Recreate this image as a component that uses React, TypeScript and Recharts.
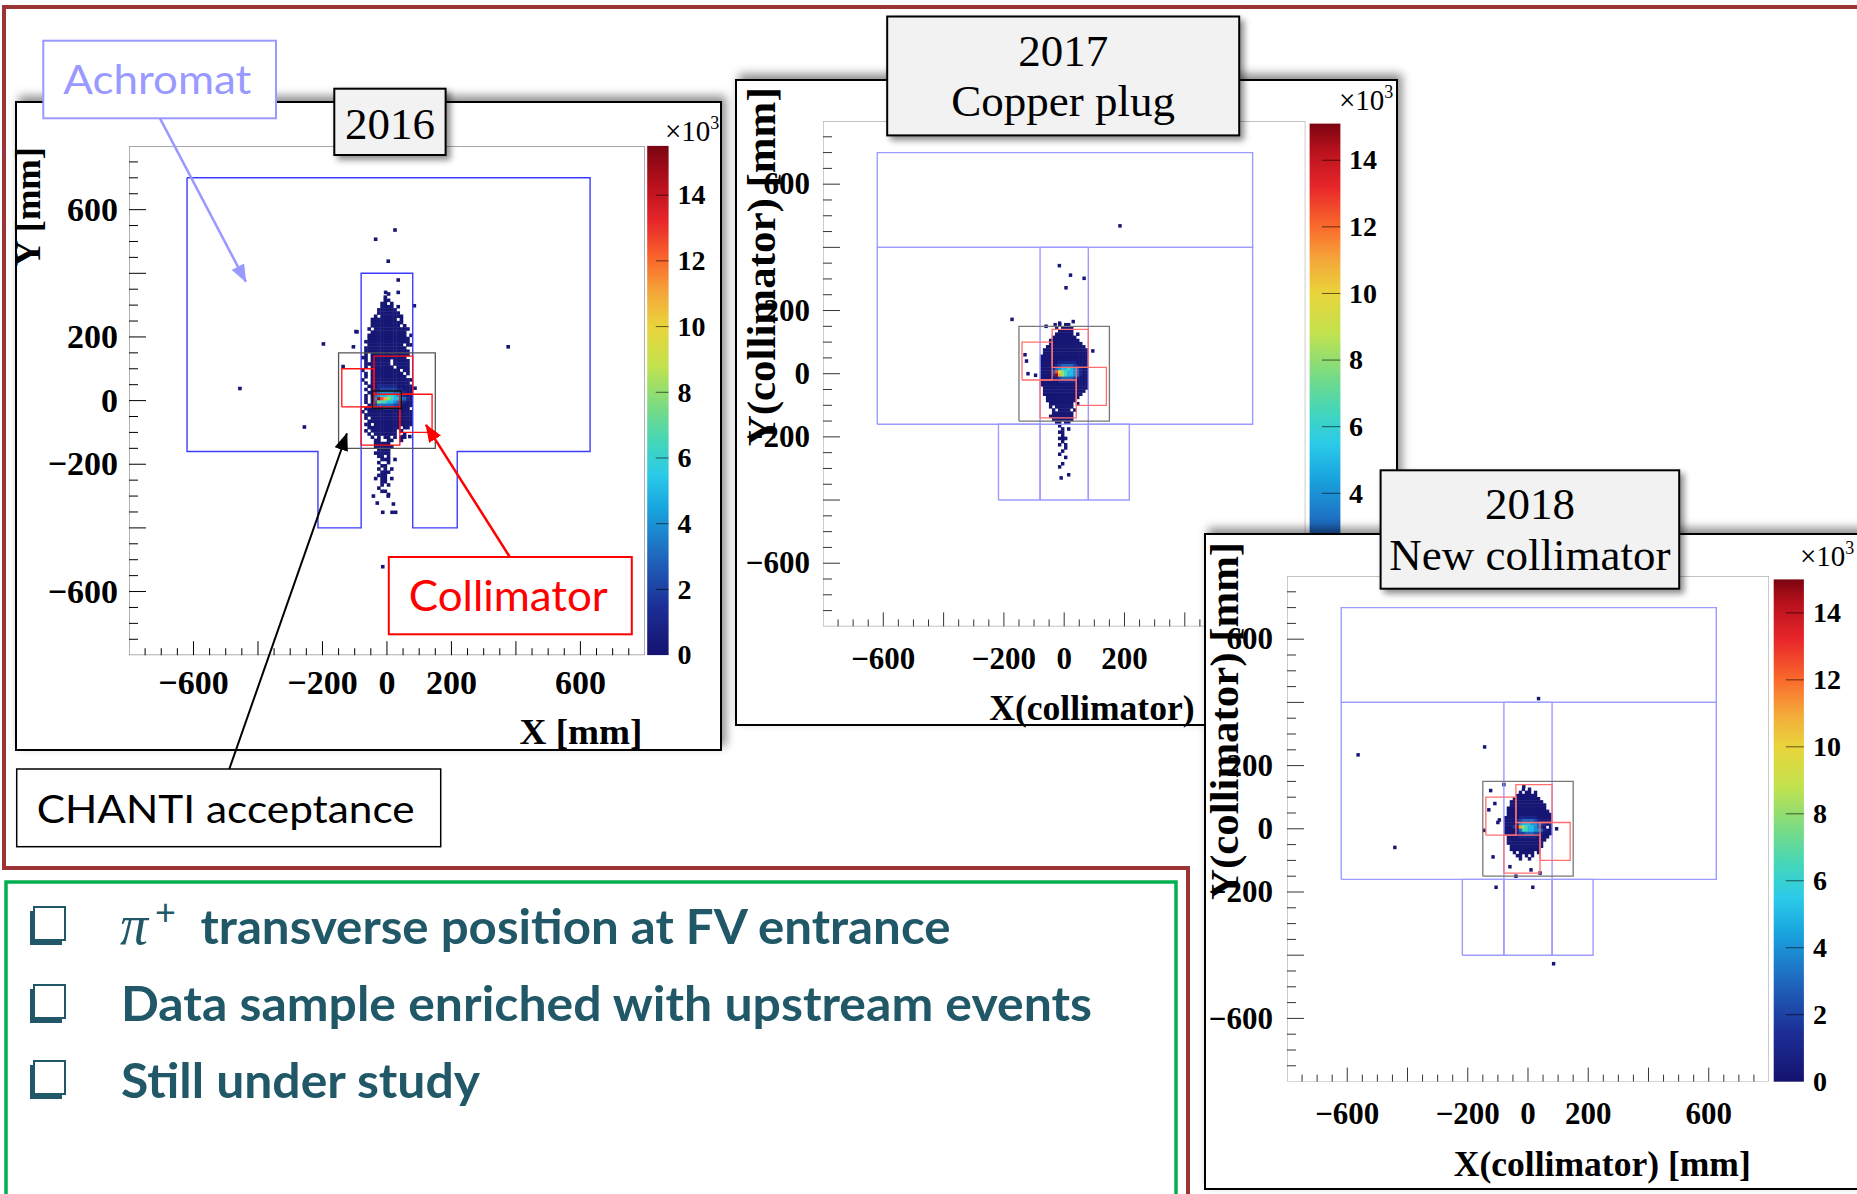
import React from 'react'
import { ScatterChart, Scatter, XAxis, YAxis } from 'recharts'

type Row = [number, string]
type Pt = [number, number]
type Box = [number, number, number, number]

// 2D histograms, 10 mm bins, counts in units of 10^3.
// Each row: lower y edge of the bin row, then one character per 10 mm bin starting at x = rowStart.
const binSize = 10
const rowStart = -100
const levelCodes = '123456789abcd'
const levelCounts = [0.2, 1, 2, 3, 4, 5, 6.5, 8, 9.5, 11, 12.5, 14, 15]

const rows2016: Row[] = [
  [330, '..........1'],
  [320, '.........1'],
  [310, '.........11'],
  [300, '........11.1'],
  [290, '........1111.1'],
  [280, '.......111111'],
  [270, '.......1111111'],
  [260, '......1.1111111'],
  [250, '.....11111111.1'],
  [240, '.....1111111111'],
  [230, '.....111111111.1'],
  [220, '....1.11111111111'],
  [210, '.....11111111111'],
  [200, '....111111111111.1'],
  [190, '....1111111111111'],
  [180, '...11111111111111'],
  [170, '....11111111111.11'],
  [160, '...1111111111111'],
  [150, '...11111111111111'],
  [140, '...1.111111111111'],
  [130, '..11.11111111111'],
  [120, '...1.111111.11111'],
  [110, '...11111111.11111'],
  [100, '...1.1111111.1111'],
  [90, '..1..111111111.11'],
  [80, '...1.1111111111.1'],
  [70, '...1.11111111111'],
  [60, '..1..1111111111111'],
  [50, '...1.111111111111'],
  [40, '....11122222211111'],
  [30, '...1.1223333322111'],
  [20, '....12345555443211'],
  [10, '...1.1456677654211'],
  [0, '...1.25dba87665421'],
  [-10, '...1.2487766543211'],
  [-20, '....13344444332111'],
  [-30, '...11122233322111'],
  [-40, '..1.11111111111111'],
  [-50, '...111111111111111'],
  [-60, '...1.1111111111111'],
  [-70, '....11111111111111'],
  [-80, '...11.111111111111'],
  [-90, '....1111111111.11'],
  [-100, '...1.11111111.1'],
  [-110, '....1.1111111..1'],
  [-120, '.....1.1.11.1.11'],
  [-130, '......11..11..1'],
  [-140, '......11111'],
  [-150, '......111111'],
  [-160, '.......1111'],
  [-170, '......11111'],
  [-180, '.......11.1'],
  [-190, '........111.1'],
  [-200, '.......1..1'],
  [-210, '........11'],
  [-220, '.......1.1.1'],
  [-230, '........111'],
  [-240, '.......111'],
  [-250, '......1.11.1'],
  [-260, '........11'],
  [-270, '........1.1'],
  [-280, '.......1'],
  [-290, '........11'],
  [-300, '..........1'],
]
const singles2016: Pt[] = [
  [25, 536], [-35, 507], [4, 438], [35, 379], [-4, 340], [35, 340], [85, 298], [-96, 217],
  [-197, 178], [376, 169], [-456, 38], [-256, -83], [-13, -522], [-13, -351], [16, -351],
  [27, -351], [-42, -300], [4, -300], [-93, 216], [-104, 169], [-136, 107], [87, 39],
  [50, -113], [71, -113], [-30, -322], [20, -325],
]

const rows2017: Row[] = [
  [150, '........1.11'],
  [140, '.......1.1111'],
  [130, '........11111'],
  [120, '.......111111.1'],
  [110, '......11111111'],
  [100, '.....1111111111'],
  [90, '.....11111111111'],
  [80, '....1111111111111'],
  [70, '...111111111111111'],
  [60, '...111111111111111'],
  [50, '..1111111111111111'],
  [40, '..1111111111111111'],
  [30, '..1111112222221111'],
  [20, '..1111123444432111'],
  [10, '..1111245667654211'],
  [0, '..11114b9876654211'],
  [-10, '..11113da876654211'],
  [-20, '..1111123444432111'],
  [-30, '..1111112222221111'],
  [-40, '..1111111111111111'],
  [-50, '...111111111111111'],
  [-60, '...11111111111111'],
  [-70, '...1111111111111'],
  [-80, '....11111111111'],
  [-90, '....1111111111'],
  [-100, '.....11111111.1'],
  [-110, '.....1.111111'],
  [-120, '......1.1111.1'],
  [-130, '......1111111'],
  [-140, '.....11111111'],
  [-150, '......1111111'],
  [-160, '.......11.11'],
  [-170, '........1'],
  [-180, '.........1.1'],
  [-190, '........11'],
  [-200, '.........1'],
  [-210, '........111'],
  [-220, '.........1'],
  [-230, '........1.1'],
  [-240, '..........1'],
  [-250, '.........1'],
  [-260, '........1'],
  [-270, '..........1'],
  [-290, '.........1'],
  [-300, '........1'],
]
const singles2017: Pt[] = [
  [185, 468], [-16, 342], [21, 312], [6, 272], [66, 302], [-173, 172], [95, 72], [-130, 60],
  [-125, 40], [-120, 0], [-95, -5], [-60, 150], [-30, 155], [-15, 160], [30, 165], [15, -320],
  [-10, -330],
]

const rows2018: Row[] = [
  [120, '........1.1'],
  [110, '.......1.11.1'],
  [100, '......1111111'],
  [90, '.....111111111'],
  [80, '....11111111111'],
  [70, '....111111111111'],
  [60, '...1111111111111'],
  [50, '...11111111111111'],
  [40, '...111111111111111'],
  [30, '..1111122222211111'],
  [20, '..1111234444321111'],
  [10, '..1111256665543211'],
  [0, '..1113da87665421.1'],
  [-10, '..1111247766554211'],
  [-20, '..1111233444332111'],
  [-30, '...11112222221111'],
  [-40, '...1111111111111'],
  [-50, '...111111111111'],
  [-60, '....11111111111'],
  [-70, '....1111111111'],
  [-80, '.....1.11111.1'],
  [-90, '......11.1.1'],
  [-100, '.......1..1'],
]
const singles2018: Pt[] = [
  [35, 412], [-564, 234], [-144, 259], [-442, -59], [-106, -185], [16, -185], [85, -427],
  [-124, 121], [-14, 134], [-116, -89], [-100, 20], [-95, 28], [-145, -5], [95, 0], [-80, 140],
  [40, -140], [-40, -150], [-60, -120], [10, -130], [-130, 60], [-110, 80],
]

// detector outlines in mm: [x1, y1, x2, y2]
const achromat2016: Pt[] = [
  [-620, 700], [630, 700], [630, -160], [218, -160], [218, -400], [80, -400], [80, 400],
  [-80, 400], [-80, -400], [-214, -400], [-214, -160], [-620, -160], [-620, 700],
]
const achromatBoxes: Box[] = [
  [-620, 400, 625, 700],
  [-620, -160, 625, 400],
  [-80, -400, 80, 400],
  [-218, -400, -80, -160],
  [80, -400, 216, -160],
]
const collimatorBoxes: Box[] = [
  [-140, -20, -40, 100],
  [-40, 20, 80, 140],
  [40, -100, 140, 20],
  [-80, -140, 40, -20],
]
const chantiBox: Box = [-150, -150, 150, 150]
const coreBox2016: Box = [-45, -25, 45, 30]
const plotBox: Box = [-800, -800, 800, 800]

const axisTicks = Array.from({ length: 31 }, (_, i) => -750 + 50 * i)
const tickLabels = [-600, -200, 0, 200, 600]
const zTicks = [0, 2, 4, 6, 8, 10, 12, 14]

const paletteStops: [number, string][] = [
  [0, '#15126f'], [1.5, '#1c2f97'], [3, '#1f67be'], [4.5, '#19a6df'], [5.5, '#2bcbe9'],
  [6.5, '#45d6b8'], [7.5, '#76db86'], [8.8, '#c2e24e'], [10, '#e9d43b'], [11, '#f4a83a'],
  [12, '#fa6a2c'], [13.2, '#e8262a'], [14.3, '#b8111c'], [15.5, '#7a0410'],
]

function hexRgb(h: string) {
  const n = parseInt(h.slice(1), 16)
  return [(n >> 16) & 255, (n >> 8) & 255, n & 255]
}

function zColor(z: number) {
  for (let i = 1; i < paletteStops.length; i++) {
    const [v1, c1] = paletteStops[i]
    if (z <= v1) {
      const [v0, c0] = paletteStops[i - 1]
      const t = (z - v0) / (v1 - v0)
      const a = hexRgb(c0), b = hexRgb(c1)
      return `rgb(${a.map((c, k) => Math.round(c + (b[k] - c) * t)).join(',')})`
    }
  }
  return paletteStops[paletteStops.length - 1][1]
}

function buildCells(rows: Row[], singles: Pt[]) {
  const cells: { x: number; y: number; z: number }[] = []
  rows.forEach(([y0, s]) => {
    for (let i = 0; i < s.length; i++) {
      const k = levelCodes.indexOf(s[i])
      if (k < 0) continue
      cells.push({ x: rowStart + i * binSize + binSize / 2, y: y0 + binSize / 2, z: levelCounts[k] })
    }
  })
  singles.forEach(([x, y]) => cells.push({ x, y, z: levelCounts[0] }))
  return cells
}

const boxPts = ([x1, y1, x2, y2]: Box): Pt[] => [[x1, y1], [x2, y1], [x2, y2], [x1, y2], [x1, y1]]
const toXY = (pts: Pt[]) => pts.map(([x, y]) => ({ x, y }))
const fmt = (v: number) => (v < 0 ? '\u2212' + Math.abs(v) : String(v))

const serif = '"Liberation Serif", "Times New Roman", serif'
const sans = 'Lato, "Open Sans", sans-serif'

interface Rect { x: number; y: number; w: number; h: number }
interface PanelCfg {
  id: string
  rows: Row[]
  singles: Pt[]
  achromat: Pt[][]
  core?: Box
  frame: Rect
  plot: Rect
  bar: Rect & { zMax: number; labelX: number; fs: number }
  exp: { x: number; y: number }
  title: Rect & { lines: { text: string; y: number }[] }
  xTitle: { text: string; x: number; y: number; anchor: 'start' | 'end'; length: number }
  yTitle: { text: string; x: number; y: number; length: number; fs: number }
  tickFs: number
  xDy: number
  yDx: number
  tickColor: string
  blue: string
  red: string
  grey: string
  frameColor: string
}

const panels: PanelCfg[] = [
  {
    id: 'p16', rows: rows2016, singles: singles2016, achromat: [achromat2016], core: coreBox2016,
    frame: { x: 15, y: 101, w: 707, h: 650 },
    plot: { x: 128.5, y: 145.9, w: 515.9, h: 509.2 },
    bar: { x: 647.2, y: 145.9, w: 21.4, h: 509.2, zMax: 15.5, labelX: 677.5, fs: 28 },
    exp: { x: 665, y: 141 },
    title: { x: 334.3, y: 88.7, w: 111.3, h: 66.3, lines: [{ text: '2016', y: 138.5 }] },
    xTitle: { text: 'X [mm]', x: 642.5, y: 743.6, anchor: 'end', length: 123 },
    yTitle: { text: 'Y [mm]', x: 40, y: 147, length: 119.5, fs: 36 },
    tickFs: 34, xDy: 38.6, yDx: 11, tickColor: '#000',
    blue: '#3c3cff', red: '#ff1010', grey: '#555', frameColor: '#8a8a8a',
  },
  {
    id: 'p17', rows: rows2017, singles: singles2017, achromat: achromatBoxes.map(boxPts),
    frame: { x: 735.4, y: 78.8, w: 662.2, h: 647 },
    plot: { x: 823.3, y: 121.1, w: 482.4, h: 505.4 },
    bar: { x: 1309.6, y: 123.6, w: 30.8, h: 502.9, zMax: 15.1, labelX: 1349, fs: 28 },
    exp: { x: 1339, y: 110 },
    title: {
      x: 887.2, y: 16.5, w: 352, h: 118.9,
      lines: [{ text: '2017', y: 66 }, { text: 'Copper plug', y: 115.6 }],
    },
    xTitle: { text: 'X(collimator) [mm]', x: 989.3, y: 719.6, anchor: 'start', length: 297 },
    yTitle: { text: 'Y(collimator) [mm]', x: 775, y: 87.3, length: 359, fs: 40 },
    tickFs: 31, xDy: 42.5, yDx: 13, tickColor: '#333',
    blue: '#9c9cff', red: '#ff6f6f', grey: '#777', frameColor: '#b0b0b0',
  },
  {
    id: 'p18', rows: rows2018, singles: singles2018, achromat: achromatBoxes.map(boxPts),
    frame: { x: 1203.6, y: 532.6, w: 700, h: 657.6 },
    plot: { x: 1287.4, y: 576.1, w: 482, h: 505.6 },
    bar: { x: 1773.7, y: 579.4, w: 30.2, h: 502.3, zMax: 15.0, labelX: 1813, fs: 28 },
    exp: { x: 1800, y: 566 },
    title: {
      x: 1380.6, y: 470.3, w: 298.6, h: 118.4,
      lines: [{ text: '2018', y: 518.5 }, { text: 'New collimator', y: 570 }],
    },
    xTitle: { text: 'X(collimator) [mm]', x: 1453.8, y: 1176, anchor: 'start', length: 297 },
    yTitle: { text: 'Y(collimator) [mm]', x: 1238, y: 541.9, length: 358, fs: 40 },
    tickFs: 31, xDy: 42, yDx: 14, tickColor: '#333',
    blue: '#9c9cff', red: '#ff6f6f', grey: '#777', frameColor: '#b0b0b0',
  },
]

const noDot = () => <g />

function Panel({ cfg }: { cfg: PanelCfg }) {
  const { plot, bar, title } = cfg
  const yAxisW = 120
  const xAxisH = 60
  const top = 10
  const right = 10
  const bw = (plot.w * binSize) / 1600 + 0.4
  const bh = (plot.h * binSize) / 1600 + 0.4
  const cells = buildCells(cfg.rows, cfg.singles)

  const outlines: { pts: Pt[]; color: string; width: number }[] = [
    ...cfg.achromat.map((pts) => ({ pts, color: cfg.blue, width: 1.4 })),
    { pts: boxPts(chantiBox), color: cfg.grey, width: 1.3 },
    ...collimatorBoxes.map((b) => ({ pts: boxPts(b), color: cfg.red, width: 1.3 })),
    ...(cfg.core ? [{ pts: boxPts(cfg.core), color: '#111', width: 1.4 }] : []),
    { pts: boxPts(plotBox), color: cfg.frameColor, width: 1.3 },
  ]

  const xTick = (p: any) => {
    const v = p.payload.value
    const len = v % 200 === 0 ? 14 : 7
    return (
      <g>
        <line x1={p.x} x2={p.x} y1={p.y} y2={p.y - len} stroke={cfg.tickColor} strokeWidth={1} />
        {tickLabels.includes(v) && (
          <text x={p.x} y={p.y + cfg.xDy} textAnchor="middle" fontFamily={serif} fontWeight="bold"
            fontSize={cfg.tickFs} fill="#000">{fmt(v)}</text>
        )}
      </g>
    )
  }
  const yTick = (p: any) => {
    const v = p.payload.value
    const len = v % 200 === 0 ? 17 : 9
    return (
      <g>
        <line x1={p.x} x2={p.x + len} y1={p.y} y2={p.y} stroke={cfg.tickColor} strokeWidth={1} />
        {tickLabels.includes(v) && (
          <text x={p.x - cfg.yDx} y={p.y + cfg.tickFs * 0.33} textAnchor="end" fontFamily={serif}
            fontWeight="bold" fontSize={cfg.tickFs} fill="#000">{fmt(v)}</text>
        )}
      </g>
    )
  }

  return (
    <>
      <div
        style={{
          position: 'absolute', left: cfg.frame.x, top: cfg.frame.y, width: cfg.frame.w, height: cfg.frame.h,
          boxSizing: 'border-box', border: '2px solid #000', background: '#fff',
          boxShadow: '4px -5px 9px rgba(0,0,0,0.45)',
        }}
      />
      <div style={{ position: 'absolute', left: plot.x - yAxisW, top: plot.y - top }}>
        <ScatterChart width={plot.w + yAxisW + right} height={plot.h + top + xAxisH}
          margin={{ top, right, bottom: 0, left: 0 }}>
          <XAxis type="number" dataKey="x" domain={[-800, 800]} allowDataOverflow ticks={axisTicks}
            interval={0} tick={xTick} tickLine={false} axisLine={false} tickSize={0} tickMargin={0}
            height={xAxisH} />
          <YAxis type="number" dataKey="y" domain={[-800, 800]} allowDataOverflow ticks={axisTicks}
            interval={0} tick={yTick} tickLine={false} axisLine={false} tickSize={0} tickMargin={0}
            width={yAxisW} />
          <Scatter data={cells} isAnimationActive={false}
            shape={(p: any) => (
              <rect x={p.cx - bw / 2} y={p.cy - bh / 2} width={bw} height={bh} fill={zColor(p.payload.z)} />
            )} />
          {outlines.map((o, i) => (
            <Scatter key={i} data={toXY(o.pts)} fill="none" line={{ stroke: o.color, strokeWidth: o.width }}
              lineType="joint" shape={noDot} isAnimationActive={false} />
          ))}
        </ScatterChart>
      </div>
      <svg width={1857} height={1194} style={{ position: 'absolute', left: 0, top: 0, pointerEvents: 'none' }}>
        <defs>
          <linearGradient id={`cb-${cfg.id}`} x1="0" y1="1" x2="0" y2="0">
            {paletteStops.map(([v, c]) => (
              <stop key={v} offset={Math.min(1, v / bar.zMax)} stopColor={c} />
            ))}
          </linearGradient>
          <filter id={`sh-${cfg.id}`} x="-10%" y="-10%" width="130%" height="140%">
            <feDropShadow dx="4" dy="4" stdDeviation="3" floodColor="#000" floodOpacity="0.45" />
          </filter>
        </defs>
        <rect x={bar.x} y={bar.y} width={bar.w} height={bar.h} fill={`url(#cb-${cfg.id})`} />
        {zTicks.map((z) => {
          const y = bar.y + bar.h - (z / bar.zMax) * bar.h
          return (
            <g key={z}>
              {z > 0 && (
                <line x1={bar.x + bar.w * 0.4} x2={bar.x + bar.w} y1={y} y2={y} stroke="#000" strokeOpacity={0.6} />
              )}
              <text x={bar.labelX} y={y + bar.fs * 0.33} fontFamily={serif} fontWeight="bold" fontSize={bar.fs}>
                {z}
              </text>
            </g>
          )
        })}
        <text x={cfg.exp.x} y={cfg.exp.y} fontFamily={serif} fontSize={29}>
          ×10<tspan dy={-12} fontSize={18}>3</tspan>
        </text>
        <text x={cfg.xTitle.x} y={cfg.xTitle.y} textAnchor={cfg.xTitle.anchor} fontFamily={serif}
          fontWeight="bold" fontSize={36} textLength={cfg.xTitle.length} lengthAdjust="spacingAndGlyphs">
          {cfg.xTitle.text}
        </text>
        <text transform={`translate(${cfg.yTitle.x},${cfg.yTitle.y}) rotate(-90)`} textAnchor="end"
          fontFamily={serif} fontWeight="bold" fontSize={cfg.yTitle.fs} textLength={cfg.yTitle.length}
          lengthAdjust="spacingAndGlyphs">
          {cfg.yTitle.text}
        </text>
        <rect x={title.x} y={title.y} width={title.w} height={title.h} fill="#f2f2f2" stroke="#000"
          strokeWidth={2} filter={`url(#sh-${cfg.id})`} />
        {title.lines.map((l) => (
          <text key={l.text} x={title.x + title.w / 2} y={l.y} textAnchor="middle" fontFamily={serif}
            fontSize={45}>{l.text}</text>
        ))}
      </svg>
    </>
  )
}

const bullets = [
  { y: 943.5, x: 200.5, text: 'transverse position at FV entrance', length: 750 },
  { y: 1021, x: 121, text: 'Data sample enriched with upstream events', length: 971 },
  { y: 1097.7, x: 121, text: 'Still under study', length: 359 },
]
const boxTops = [907, 985, 1061]
const teal = '#215868'

export default function App() {
  return (
    <div style={{ position: 'absolute', left: 0, top: 0, width: 1857, height: 1194, overflow: 'hidden', background: '#fff' }}>
      <svg width={1857} height={1194} style={{ position: 'absolute', left: 0, top: 0 }}>
        <path d="M1857,7 H4 V868 H1188 V1194" fill="none" stroke="#9b3535" strokeWidth={4} />
        <rect x={6} y={882} width={1170} height={340} fill="none" stroke="#00b050" strokeWidth={3.5} />
        {boxTops.map((t) => (
          <g key={t}>
            <rect x={30} y={t + 4} width={32} height={34} fill={teal} />
            <rect x={34} y={t} width={31} height={33} fill="#fff" stroke={teal} strokeWidth={2} />
          </g>
        ))}
        <text x={120} y={943.5} fontFamily={serif} fontStyle="italic" fontSize={56} fill={teal}>π</text>
        <text x={155} y={925} fontFamily={sans} fontSize={36} fill={teal}>+</text>
        {bullets.map((b) => (
          <text key={b.text} x={b.x} y={b.y} fontFamily={sans} fontWeight="bold" fontSize={47} fill={teal}
            textLength={b.length} lengthAdjust="spacingAndGlyphs">{b.text}</text>
        ))}
      </svg>
      {panels.map((p) => (
        <Panel key={p.id} cfg={p} />
      ))}
      <svg width={1857} height={1194} style={{ position: 'absolute', left: 0, top: 0, pointerEvents: 'none' }}>
        <defs>
          {[['ahBlue', '#9999ff'], ['ahBlack', '#000'], ['ahRed', '#ff0000']].map(([id, c]) => (
            <marker key={id} id={id} viewBox="0 0 18 14" refX={17} refY={7} markerWidth={18} markerHeight={14}
              markerUnits="userSpaceOnUse" orient="auto">
              <path d="M0,0 L18,7 L0,14 z" fill={c} />
            </marker>
          ))}
        </defs>
        <line x1={160} y1={118.3} x2={245.8} y2={281.7} stroke="#9999ff" strokeWidth={2.5} markerEnd="url(#ahBlue)" />
        <rect x={43.3} y={40.7} width={232.7} height={77.6} fill="#fff" stroke="#9999ff" strokeWidth={2} />
        <text x={63.3} y={94} fontFamily={sans} fontSize={40} fill="#9999ff" textLength={188}
          lengthAdjust="spacingAndGlyphs">Achromat</text>

        <line x1={229.3} y1={769} x2={346.9} y2={433.5} stroke="#000" strokeWidth={2} markerEnd="url(#ahBlack)" />
        <rect x={16.7} y={769} width={424} height={77.7} fill="#fff" stroke="#000" strokeWidth={1.5} />
        <text x={36.7} y={823.3} fontFamily={sans} fontSize={39} fill="#000" textLength={378}
          lengthAdjust="spacingAndGlyphs">CHANTI acceptance</text>

        <line x1={509.8} y1={557} x2={426} y2={424.8} stroke="#ff0000" strokeWidth={2.5} markerEnd="url(#ahRed)" />
        <rect x={388.8} y={557} width={243} height={77.3} fill="#fff" stroke="#ff0000" strokeWidth={2} />
        <text x={408.8} y={611.3} fontFamily={sans} fontSize={43} fill="#ff0000" textLength={199}
          lengthAdjust="spacingAndGlyphs">Collimator</text>
      </svg>
    </div>
  )
}
